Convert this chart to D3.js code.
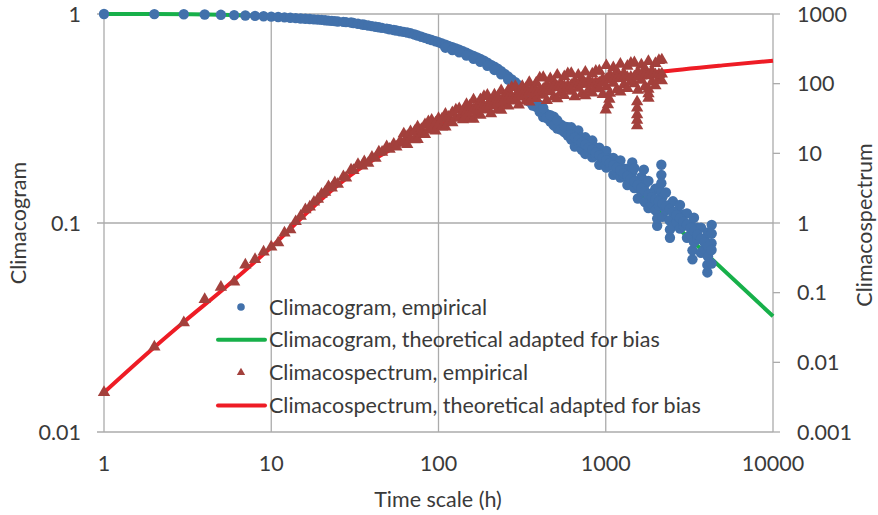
<!DOCTYPE html>
<meta charset="utf-8">
<script src="https://d3js.org/d3.v7.min.js"></script>
<style>
  body { margin: 0; background: #fff; }
  text { font-family: Lato, "Open Sans", sans-serif; fill: #3a3a3a; }
</style>
<div id="chart"></div>
<script>
// time scales (h) and empirical climacogram
var cgEmpirical = [
  [1, 1], [2, 0.999], [3, 0.997], [4, 0.994], [5, 0.991], [6, 0.988], [7, 0.984], [8, 0.98], [9, 0.976], [10, 0.972],
  [11, 0.968], [12, 0.964], [13, 0.96], [14, 0.956], [15, 0.952], [16, 0.949], [17, 0.946], [18, 0.943], [19, 0.94], [20, 0.937],
  [21, 0.933], [22, 0.93], [23, 0.927], [24, 0.924], [25, 0.921], [27, 0.917], [28, 0.914], [30, 0.91], [31, 0.906], [33, 0.898],
  [35, 0.891], [36, 0.888], [38, 0.881], [40, 0.875], [42, 0.869], [44, 0.864], [46, 0.858], [49, 0.851], [51, 0.845], [54, 0.838],
  [56, 0.834], [59, 0.827], [62, 0.821], [65, 0.815], [68, 0.809], [72, 0.798], [75, 0.789], [79, 0.778], [83, 0.769], [87, 0.759],
  [91, 0.751], [96, 0.741], [100, 0.733], [105, 0.722], [110, 0.713], [115, 0.703], [121, 0.693], [127, 0.684], [133, 0.675], [140, 0.663],
  [147, 0.652], [154, 0.641], [162, 0.63], [170, 0.62], [178, 0.61], [187, 0.598], [196, 0.585], [206, 0.571], [216, 0.559], [226, 0.547],
  [237, 0.533], [249, 0.517], [261, 0.502], [274, 0.486], [288, 0.472], [302, 0.457], [317, 0.439],
  [110, 0.69], [121, 0.672], [133, 0.655], [147, 0.632], [162, 0.61], [178, 0.59], [196, 0.565], [216, 0.54], [237, 0.515], [261, 0.485],
  [288, 0.455], [317, 0.425],
  [333, 0.431], [349, 0.381], [366, 0.405], [384, 0.36], [403, 0.367], [423, 0.321], [444, 0.332], [466, 0.306], [489, 0.323], [513, 0.283],
  [538, 0.296], [565, 0.272], [593, 0.287],
  [333, 0.405], [349, 0.418], [366, 0.365], [384, 0.377], [403, 0.34], [423, 0.355], [444, 0.318], [466, 0.328], [489, 0.293], [513, 0.31],
  [538, 0.28], [565, 0.29], [593, 0.262],
  [622, 0.287], [622, 0.251], [653, 0.265], [653, 0.232], [685, 0.277], [685, 0.242], [719, 0.224], [719, 0.256], [755, 0.257], [755, 0.214],
  [792, 0.237], [792, 0.219], [831, 0.248], [831, 0.206], [872, 0.21], [872, 0.229], [915, 0.229], [915, 0.19], [960, 0.212], [960, 0.195],
  [1008, 0.221], [1008, 0.184], [1058, 0.188], [1058, 0.204], [1110, 0.205], [1110, 0.17], [1165, 0.19], [1165, 0.175], [1223, 0.199], [1223, 0.165],
  [1283, 0.168], [1283, 0.182], [1347, 0.182], [1347, 0.152], [1413, 0.168], [1413, 0.155], [1440, 0.195], [1440, 0.175],
  [1483, 0.183], [1483, 0.147], [1556, 0.159], [1556, 0.131], [1633, 0.166], [1633, 0.141], [1690, 0.18], [1690, 0.16], [1714, 0.126], [1714, 0.153],
  [1799, 0.159], [1799, 0.118], [1888, 0.139], [1888, 0.123], [1981, 0.146], [1981, 0.115], [2030, 0.097], [2030, 0.105], [2079, 0.121], [2079, 0.147],
  [2150, 0.19], [2150, 0.17], [2150, 0.155], [2150, 0.14], [2182, 0.133], [2182, 0.107], [2290, 0.14], [2290, 0.115], [2403, 0.103], [2403, 0.122],
  [2420, 0.085], [2420, 0.093], [2522, 0.127], [2522, 0.097], [2647, 0.114], [2647, 0.101], [2778, 0.122], [2778, 0.094], [2915, 0.097], [2915, 0.11],
  [3059, 0.111], [3059, 0.085], [3210, 0.099], [3210, 0.088], [3300, 0.067], [3300, 0.074], [3369, 0.106], [3369, 0.081], [3536, 0.084], [3536, 0.095],
  [3711, 0.095], [3711, 0.072], [3894, 0.084], [3894, 0.075], [4050, 0.058], [4050, 0.063], [4087, 0.09], [4087, 0.069], [4290, 0.08], [4290, 0.064],
  [4300, 0.098], [4300, 0.089],
  [622, 0.264], [653, 0.257], [685, 0.25], [719, 0.243], [755, 0.237], [792, 0.23], [831, 0.224], [872, 0.217], [915, 0.211], [960, 0.205],
  [1008, 0.1995], [1058, 0.194], [1110, 0.189], [1165, 0.184], [1223, 0.179], [1283, 0.173], [1347, 0.168], [1413, 0.163], [1483, 0.158], [1556, 0.152],
  [1633, 0.147], [1714, 0.1416], [1799, 0.1367], [1888, 0.1328], [1981, 0.1297], [2079, 0.1267], [2182, 0.1238], [2290, 0.1206], [2403, 0.1166], [2522, 0.1128],
  [2647, 0.1091], [2778, 0.1055], [2915, 0.1018], [3059, 0.0983], [3210, 0.0947], [3369, 0.0914], [3536, 0.0879], [3711, 0.0841], [3894, 0.0807], [4087, 0.0774],
  [4290, 0.0743]
];

// empirical climacospectrum (right axis)
var csEmpirical = [
  [1, 0.0037], [2, 0.0167], [3, 0.037], [4, 0.08], [5, 0.12], [6, 0.143], [7, 0.25], [8, 0.3], [9, 0.385], [10, 0.454],
  [11, 0.52], [12, 0.72], [13, 0.8], [14, 1.05], [15, 1.25], [16, 1.55], [17, 1.7], [18, 2.0], [19, 2.2], [20, 2.6],
  [21, 2.78], [22, 3.34], [23, 3.19], [24, 3.8], [25, 3.6], [27, 4.62], [28, 4.45], [30, 5.79], [31, 5.69], [33, 6.92],
  [35, 6.61], [36, 7.59], [38, 7.21], [40, 8.81], [42, 8.51], [44, 10.5], [46, 10.4], [49, 12.5], [51, 11.5], [54, 13.6],
  [56, 12.4], [59, 14.9],
  [62, 19.1], [62, 14.0], [65, 17.5], [65, 13.4], [68, 20.5], [68, 16.3], [72, 15.7], [72, 20.6], [75, 24.0], [75, 15.8],
  [79, 22.1], [79, 18.8], [83, 25.9], [83, 18.6], [87, 21.7], [87, 28.4], [91, 29.9], [91, 21.9], [96, 27.4], [96, 20.9],
  [100, 31.8], [100, 25.3], [105, 23.9], [105, 31.3], [110, 36.4], [110, 24.0], [115, 33.0], [115, 27.9], [121, 38.5], [121, 27.6],
  [127, 32.1], [127, 42.1], [133, 43.9], [133, 32.1], [140, 39.6], [140, 30.3],
  [147, 50.4], [147, 35.3], [154, 31.4], [154, 47.8], [162, 58.6], [162, 30.8], [170, 48.5], [170, 37.5], [178, 59.2], [178, 35.3],
  [187, 43.3], [187, 65.8], [196, 68.2], [196, 42.1], [206, 56.6], [206, 37.2], [216, 69.0], [216, 48.4], [226, 42.8], [226, 65.0],
  [237, 79.4], [237, 41.7], [249, 65.9], [249, 50.9], [261, 80.2], [261, 47.9], [274, 58.2], [274, 88.5], [288, 91.4], [288, 56.4],
  [302, 75.5], [302, 49.7], [317, 91.6], [317, 64.3], [333, 56.4], [333, 85.7], [349, 104], [349, 54.5], [366, 85.1], [366, 65.8],
  [384, 103], [384, 61.4],
  [403, 72.6], [403, 121], [423, 123], [423, 68.4], [444, 95.5], [444, 57.4], [466, 118], [466, 76.9], [489, 64.6], [489, 107],
  [513, 133], [513, 60.7], [538, 102], [538, 74.8], [565, 126], [565, 67.6], [593, 83.4], [593, 139], [622, 141], [622, 78.2],
  [653, 108], [653, 65.0], [685, 133], [685, 86.3], [719, 71.6], [719, 119], [755, 147], [755, 67.0], [792, 112], [792, 82.2],
  [831, 138], [831, 73.8], [872, 90.6], [872, 151], [915, 152], [915, 84.5], [960, 117], [960, 70.2],
  [1000, 42], [1030, 50], [1050, 60],
  [1008, 182], [1008, 91.2], [1058, 133], [1058, 73.3], [1110, 170], [1110, 102], [1165, 82.2], [1165, 150], [1223, 191], [1223, 75.9],
  [1283, 140], [1283, 96.6], [1347, 178], [1347, 85.1], [1413, 108], [1413, 197], [1483, 200], [1483, 100],
  [1540, 25], [1540, 30], [1540, 36], [1540, 45], [1540, 55],
  [1556, 146], [1556, 80.4], [1633, 186], [1633, 112], [1714, 90.2], [1714, 164], [1799, 209], [1799, 83.2], [1800, 62], [1800, 72],
  [1888, 153], [1888, 106], [1981, 195], [1981, 93.3], [2079, 119], [2079, 216], [2164, 219], [2164, 110],
  [147, 38.9], [154, 40.6], [162, 42.5], [170, 44.1], [178, 45.7], [187, 47.6], [196, 49.4], [206, 51.4], [216, 53.3], [226, 55.3],
  [237, 57.5], [249, 59.8], [261, 61.9], [274, 64.1], [288, 66.2], [302, 68.5], [317, 70.8], [333, 72.9], [349, 75.2], [366, 77.3],
  [384, 79.4], [403, 81.7], [423, 83.2], [444, 84.9], [466, 86.5], [489, 88.3], [513, 89.7], [538, 91.0], [565, 92.5], [593, 93.8],
  [622, 95.1], [653, 96.2], [685, 97.1], [719, 98.0], [755, 99.1], [792, 100], [831, 101], [872, 102], [915, 103], [960, 104],
  [1008, 115], [1058, 116], [1110, 117.5], [1165, 119], [1223, 120], [1283, 122], [1347, 123], [1413, 124.5], [1483, 126], [1556, 127],
  [1633, 129], [1714, 130], [1799, 132], [1888, 133], [1981, 135], [2079, 136], [2164, 138]
];

// theoretical curves adapted for bias
var theoScale = [1, 2, 5, 10, 20, 50, 100, 200, 300, 500, 1000, 2000, 4000, 10000];
var cgTheoretical = [1, 0.999, 0.992, 0.974, 0.937, 0.852, 0.733, 0.58, 0.44, 0.32, 0.195, 0.118, 0.071, 0.0358];
var csTheoScale = [1, 2, 3, 5, 7, 10, 15, 20, 30, 50, 70, 100, 150, 200, 300, 500, 700, 1000, 2000, 5000, 10000];
var csTheoretical = [0.0037, 0.0165, 0.038, 0.105, 0.21, 0.45, 1.15, 2.2, 4.9, 10.8, 16.5, 25, 37, 48, 66, 90, 104, 118, 146, 183, 213];

var xTicks = [1, 10, 100, 1000, 10000];
var yLeftTicks = [1, 0.1, 0.01];
var yRightTicks = [1000, 100, 10, 1, 0.1, 0.01, 0.001];

var legendItems = [
  {label: "Climacogram, empirical", type: "dot"},
  {label: "Climacogram, theoretical adapted for bias", type: "green"},
  {label: "Climacospectrum, empirical", type: "tri"},
  {label: "Climacospectrum, theoretical adapted for bias", type: "red"}
];

var width = 878, height = 515;
var blue = "#4271ab", brown = "#a3403c", green = "#17b04a", red = "#ee1c25", grid = "#ababab";
var fs = "21.5px";

var svg = d3.select("#chart").append("svg")
  .attr("width", width)
  .attr("height", height);

var x = d3.scaleLog().domain([1, 10000]).range([104, 773]);
var yL = d3.scaleLog().domain([0.01, 1]).range([432, 14]);
var yR = d3.scaleLog().domain([0.001, 1000]).range([432, 14]);

// grid
svg.append("g").selectAll("line").data(xTicks).enter().append("line")
  .attr("x1", d => x(d)).attr("x2", d => x(d))
  .attr("y1", 14).attr("y2", 432)
  .attr("stroke", grid).attr("stroke-width", 1.3);
svg.append("g").selectAll("line").data(yLeftTicks).enter().append("line")
  .attr("x1", 97).attr("x2", 773)
  .attr("y1", d => yL(d)).attr("y2", d => yL(d))
  .attr("stroke", grid).attr("stroke-width", 1.3);
svg.append("g").selectAll("line").data(yRightTicks).enter().append("line")
  .attr("x1", 773).attr("x2", 780)
  .attr("y1", d => yR(d)).attr("y2", d => yR(d))
  .attr("stroke", grid).attr("stroke-width", 1.3);

// tick labels
svg.append("g").selectAll("text").data(xTicks).enter().append("text")
  .attr("x", d => x(d)).attr("y", 463).attr("dy", "0.35em")
  .attr("text-anchor", "middle").style("font-size", fs)
  .text(d => d);
svg.append("g").selectAll("text").data(yLeftTicks).enter().append("text")
  .attr("x", 81).attr("y", d => yL(d)).attr("dy", "0.35em")
  .attr("text-anchor", "end").style("font-size", fs)
  .text(d => d);
svg.append("g").selectAll("text").data(yRightTicks).enter().append("text")
  .attr("x", 797).attr("y", d => yR(d)).attr("dy", "0.35em")
  .attr("text-anchor", "start").style("font-size", fs)
  .text(d => d);

// axis titles
svg.append("text").attr("transform", "translate(26,223) rotate(-90)")
  .attr("text-anchor", "middle").style("font-size", fs).text("Climacogram");
svg.append("text").attr("transform", "translate(872,225) rotate(-90)")
  .attr("text-anchor", "middle").style("font-size", fs).text("Climacospectrum");
svg.append("text").attr("x", 438).attr("y", 507)
  .attr("text-anchor", "middle").style("font-size", fs).text("Time scale (h)");

// theoretical climacogram (under the dots)
var cgLine = d3.line()
  .x((d, i) => x(theoScale[i]))
  .y(d => yL(d))
  .curve(d3.curveMonotoneX);
svg.append("path").datum(cgTheoretical)
  .attr("d", cgLine)
  .attr("fill", "none").attr("stroke", green).attr("stroke-width", 4);

// empirical climacogram
svg.append("g").selectAll("circle").data(cgEmpirical).enter().append("circle")
  .attr("cx", d => x(d[0])).attr("cy", d => yL(d[1]))
  .attr("r", 5.2).attr("fill", blue);

// theoretical climacospectrum
var csLine = d3.line()
  .x((d, i) => x(csTheoScale[i]))
  .y(d => yR(d))
  .curve(d3.curveMonotoneX);
svg.append("path").datum(csTheoretical)
  .attr("d", csLine)
  .attr("fill", "none").attr("stroke", red).attr("stroke-width", 4);

// empirical climacospectrum
var tri = d3.symbol().type(d3.symbolTriangle).size(66);
svg.append("g").selectAll("path").data(csEmpirical).enter().append("path")
  .attr("d", tri)
  .attr("transform", d => "translate(" + x(d[0]) + "," + yR(d[1]) + ")")
  .attr("fill", brown);

// legend
var legend = svg.append("g").selectAll("g").data(legendItems).enter().append("g")
  .attr("transform", (d, i) => "translate(0," + (307 + i * 32.8) + ")");
legend.filter(d => d.type == "dot").append("circle")
  .attr("cx", 241).attr("r", 3.8).attr("fill", blue);
legend.filter(d => d.type == "tri").append("path")
  .attr("d", d3.symbol().type(d3.symbolTriangle).size(30))
  .attr("transform", "translate(241,0)").attr("fill", brown);
legend.filter(d => d.type == "green" || d.type == "red").append("line")
  .attr("x1", 218).attr("x2", 265)
  .attr("stroke", d => d.type == "green" ? green : red)
  .attr("stroke-width", 4).attr("stroke-linecap", "round");
legend.append("text")
  .attr("x", 269).attr("dy", "0.35em").style("font-size", fs)
  .text(d => d.label);
</script>
